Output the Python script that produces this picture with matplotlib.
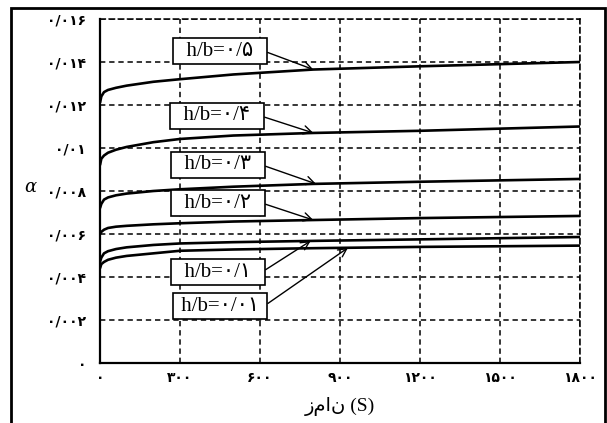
import matplotlib
matplotlib.use('Agg')
import matplotlib.pyplot as plt
import numpy as np
from matplotlib.patches import Rectangle

# ---- data ----
time_s = [0, 5, 15, 30, 60, 100, 200, 300, 500, 800, 1200, 1800]
alpha_05 = [0.0121, 0.0124, 0.0126, 0.0127, 0.0128, 0.0129, 0.01308, 0.0132, 0.01342, 0.01365, 0.0138, 0.0140]
alpha_04 = [0.0092, 0.0095, 0.00965, 0.00978, 0.00992, 0.01005, 0.01027, 0.01042, 0.01058, 0.0107, 0.0108, 0.0110]
alpha_03 = [0.0072, 0.0074, 0.0076, 0.0077, 0.0078, 0.00788, 0.0080, 0.00808, 0.0082, 0.00833, 0.00843, 0.00856]
alpha_02 = [0.0060, 0.0061, 0.0062, 0.00628, 0.00634, 0.00638, 0.00645, 0.0065, 0.00658, 0.00665, 0.00674, 0.00684]
alpha_01 = [0.0047, 0.0049, 0.0051, 0.0052, 0.0053, 0.00538, 0.00549, 0.00556, 0.00562, 0.00568, 0.00575, 0.00586]
alpha_001 = [0.0044, 0.0046, 0.0047, 0.0048, 0.0049, 0.00498, 0.0051, 0.00522, 0.00528, 0.00534, 0.0054, 0.00546]

series_labels = ['h/b=۰/۵', 'h/b=۰/۴', 'h/b=۰/۳', 'h/b=۰/۲', 'h/b=۰/۱', 'h/b=۰/۰۱']

x_ticks = [0, 300, 600, 900, 1200, 1500, 1800]
x_tick_labels = ['۰', '۳۰۰', '۶۰۰', '۹۰۰', '۱۲۰۰', '۱۵۰۰', '۱۸۰۰']
y_ticks = [0, 0.002, 0.004, 0.006, 0.008, 0.010, 0.012, 0.014, 0.016]
y_tick_labels = ['۰', '۰/۰۰۲', '۰/۰۰۴', '۰/۰۰۶', '۰/۰۰۸', '۰/۰۱', '۰/۰۱۲', '۰/۰۱۴', '۰/۰۱۶']

x_title = 'زمان (S)'
y_title = 'α'

# ---- annotation layout (time where each arrow points, label box centre) ----
arrow_times = [800, 800, 810, 800, 790, 930]
label_boxes = [(450, 0.01451), (439, 0.01149), (443, 0.00921),
               (443, 0.00744), (443, 0.00423), (450, 0.00265)]
label_padding = ['  ', '  ', '  ', '  ', '  ', ' ']

fig = plt.figure(figsize=(6.07, 4.23), dpi=100)
ax = fig.add_axes([100/607, 1-363/423, 480/607, 344/423])

all_series = [alpha_05, alpha_04, alpha_03, alpha_02, alpha_01, alpha_001]
for ys in all_series:
    ax.plot(time_s, ys, color='black', lw=1.9, zorder=3, solid_capstyle='butt',
            solid_joinstyle='round')

ax.set_xlim(0, 1800)
ax.set_ylim(0, 0.016)
ax.set_xticks(x_ticks)
ax.set_xticklabels(x_tick_labels, fontfamily='DejaVu Sans', fontsize=10, fontweight='bold')
ax.set_yticks(y_ticks)
ax.set_yticklabels(y_tick_labels, fontfamily='DejaVu Sans', fontsize=10, fontweight='bold')
ax.tick_params(length=0)
ax.tick_params(axis='y', pad=10)
ax.tick_params(axis='x', pad=6)

dash = (0, (3.5, 2.5))
ax.grid(True, color='black', linestyle=dash, lw=1.1, zorder=1)
for s in ['top', 'right']:
    ax.spines[s].set_linestyle(dash)
    ax.spines[s].set_linewidth(1.1)
for s in ['left', 'bottom']:
    ax.spines[s].set_linewidth(1.6)
ax.set_axisbelow(True)

for lab, ys, ta, (bx, by), padtxt in zip(series_labels, all_series, arrow_times,
                                         label_boxes, label_padding):
    yt = np.interp(ta, time_s, ys)
    ax.annotate(padtxt + lab + padtxt, xy=(ta, yt), xytext=(bx, by),
                ha='center', va='center', fontsize=15,
                fontfamily=['Liberation Serif', 'DejaVu Sans'],
                bbox=dict(boxstyle='square,pad=0.15', fc='white', ec='black', lw=1.2),
                arrowprops=dict(arrowstyle='->', color='black', lw=1.0,
                                relpos=(1.0, 0.5), shrinkA=0, shrinkB=0),
                zorder=5)

ax.set_xlabel(x_title, fontsize=14, fontfamily=['Liberation Serif', 'DejaVu Sans'])
ax.xaxis.set_label_coords(0.5, -(397-363)/344)
ax.set_ylabel(y_title, rotation=0, fontsize=13, fontfamily='DejaVu Serif', fontstyle='italic',
              va='center', ha='center')
ax.yaxis.set_label_coords(-(100-30)/480, (363-187)/344)

border = Rectangle((11/607, -0.05), (605-11)/607, (1-8/423)+0.05, transform=fig.transFigure,
                   fill=False, ec='black', lw=2, clip_on=False)
fig.patches.append(border)

fig.savefig('out.png', dpi=100)
